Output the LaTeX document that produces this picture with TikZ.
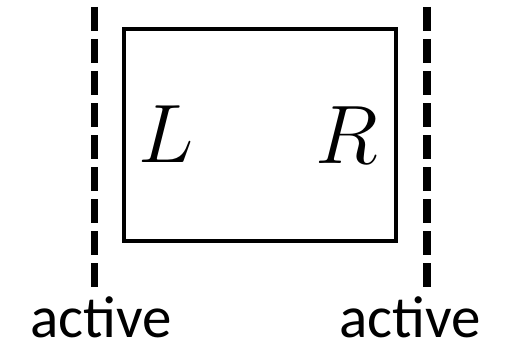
\RequirePackage{fix-cm}
\documentclass[tikz,border=0pt]{standalone}
\usepackage{fontspec}
\newfontfamily\labelfont{Carlito}
\begin{document}
\begin{tikzpicture}[x=1pt,y=-1pt,
  wall/.style={line width=7.5pt, dash pattern=on 24pt off 8pt},
  box/.style={draw, line width=4pt},
  side/.style={inner sep=0pt, anchor=base, font=\fontsize{83}{83}\selectfont},
  lbl/.style={inner sep=0pt, anchor=base, font=\labelfont\fontsize{59}{59}\selectfont}]
\useasboundingbox (0,0) rectangle (506,361);
\coordinate (lt) at (94.5,7);
\coordinate (lb) at (94.5,287);
\coordinate (rt) at (427,7);
\coordinate (rb) at (427,287);
\draw[wall] (lt) -- (lb);
\draw[wall] (rt) -- (rb);
\draw[box] (124,29.5) rectangle (396,241);
\node[side] (L) at (166,162) {$L$};
\node[side] (R) at (347,163) {$R$};
\node[lbl] (al) at (101,337) {active};
\node[lbl] (ar) at (410,337) {active};
\end{tikzpicture}
\end{document}
